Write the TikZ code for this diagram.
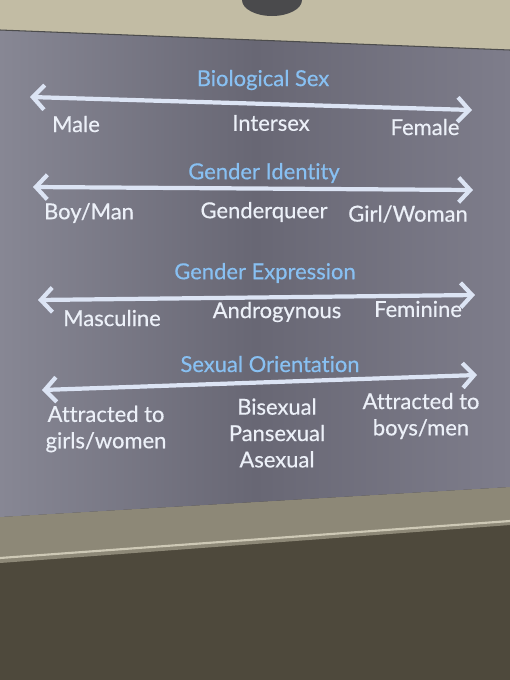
\documentclass[tikz,border=0pt]{standalone}
\usepackage{fontspec}
\setmainfont[Ligatures=NoCommon]{Lato}
\newfontfamily\slidefont[Ligatures=NoCommon, FakeBold=0.45]{Lato}
\usetikzlibrary{arrows.meta}
\definecolor{wall}{HTML}{C2BCA4}
\definecolor{screenL}{HTML}{878794}
\definecolor{screenM}{HTML}{686774}
\definecolor{screenR}{HTML}{7E7D8B}
\definecolor{ledge}{HTML}{8D8877}
\definecolor{floor}{HTML}{4E493C}
\definecolor{knob}{HTML}{4A4A4C}
\definecolor{axiscol}{HTML}{DCE4F4}
\definecolor{titleblue}{HTML}{88C0F2}
\definecolor{labelwhite}{HTML}{ECF0F8}
\tikzset{
  axis/.style={axiscol, line width=2.4pt, {Straight Barb[length=6.5pt,width=14pt]}-{Straight Barb[length=6.5pt,width=14pt]}},
  heading/.style={text=titleblue, font=\slidefont\fontsize{12.5}{15}\selectfont},
  pole/.style={text=labelwhite, font=\slidefont\fontsize{12.5}{15}\selectfont, align=center}
}
\begin{document}
\begin{tikzpicture}[x=0.02cm,y=-0.02cm]
    \useasboundingbox (0,0) rectangle (510,680);
    % wall, ledge and screen
    \fill[wall] (0,0) rectangle (510,60);
    \fill[knob] (272,0) ellipse (30 and 16);
    \fill[floor] (0,470) rectangle (510,680);
    \fill[ledge] (0,517) -- (510,487) -- (510,525) -- (0,563) -- cycle;
    \draw[wall!80!white, line width=1.2pt] (0,558) -- (510,521);
    \shade[left color=screenL, right color=screenR, middle color=screenM]
        (0,30) -- (510,50) -- (510,487) -- (0,517) -- cycle;
    \draw[black!70, line width=0.6pt] (0,30) -- (510,50);

    % axes
    \foreach \n/\xa/\ya/\xb/\yb in {bio/30/97/472/110, gid/33/187/473/190,
                                    gex/38/300/475/295, ori/42/390/477/375} {
        \coordinate (\n L) at (\xa,\ya);
        \coordinate (\n R) at (\xb,\yb);
        \draw[axis] (\n L) -- (\n R);
    }

    % Biological Sex
    \node[heading] (bio) at (263,80) {Biological Sex};
    \node[pole] (male) at (76,124) {Male};
    \node[pole] (inter) at (271,123) {Intersex};
    \node[pole] (female) at (425,127) {Female};

    % Gender Identity
    \node[heading] (gid) at (264,173) {Gender Identity};
    \node[pole] (boy) at (89,213) {Boy/Man};
    \node[pole] (queer) at (264,212) {Genderqueer};
    \node[pole] (girl) at (408,214) {Girl/Woman};

    % Gender Expression
    \node[heading] (gex) at (265,273) {Gender Expression};
    \node[pole] (masc) at (112,318) {Masculine};
    \node[pole] (andro) at (277,312) {Androgynous};
    \node[pole] (femi) at (418,309) {Feminine};

    % Sexual Orientation
    \node[heading] (ori) at (270,364) {Sexual Orientation};
    \node[pole] (women) at (106,429) {Attracted to\\girls/women};
    \node[pole] (bi) at (277,433) {Bisexual\\Pansexual\\Asexual};
    \node[pole] (men) at (421,416) {Attracted to\\boys/men};
\end{tikzpicture}
\end{document}
